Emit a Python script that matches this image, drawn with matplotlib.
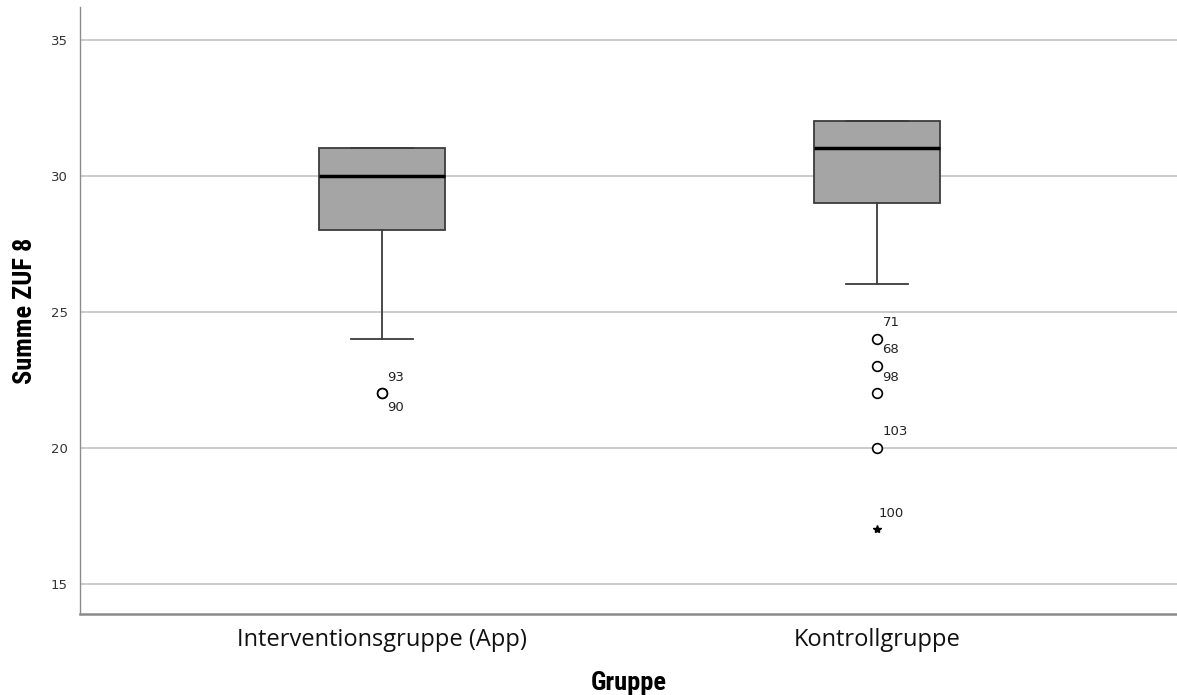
import matplotlib
matplotlib.use("Agg")
import matplotlib.pyplot as plt
from matplotlib import font_manager

gruppen = ["Interventionsgruppe (App)", "Kontrollgruppe"]
q1 = [28, 29]
median = [30, 31]
q3 = [31, 32]
whisker_lo = [24, 26]
whisker_hi = [31, 32]

# Ausreisser (Kreis) und Extremwerte (Stern) mit Fallnummern
ausreisser_gruppe = [0, 0, 1, 1, 1, 1]
ausreisser_wert = [22, 22, 24, 23, 22, 20]
ausreisser_label = ["93", "90", "71", "68", "98", "103"]
ausreisser_pos = ["oben", "unten", "oben", "oben", "oben", "oben"]
extrem_gruppe = [1]
extrem_wert = [17]
extrem_label = ["100"]

yticks = [15, 20, 25, 30, 35]

# schmale Schrift fuer die Achsentitel, falls vorhanden
namen = {f.name for f in font_manager.fontManager.ttflist}
schmal = [n for n in ["Liberation Sans Narrow", "Roboto Condensed", "Open Sans Condensed"] if n in namen]
fam_titel = schmal + ["DejaVu Sans"]
fam_ticks = ["Open Sans", "DejaVu Sans"]

fig = plt.figure(figsize=(11.77, 6.95), dpi=100)
ax = fig.add_axes([0.068, 0.117, 0.932, 0.873])

positions = [1, 2]
stats = []
for i, g in enumerate(gruppen):
    stats.append(dict(label=g, q1=q1[i], med=median[i], q3=q3[i],
                      whislo=whisker_lo[i], whishi=whisker_hi[i], fliers=[]))

ax.bxp(stats, positions=positions, widths=0.255, patch_artist=True,
       showfliers=False,
       boxprops=dict(facecolor="#a5a5a5", edgecolor="#3c3c3c", linewidth=1.3),
       medianprops=dict(color="black", linewidth=2.5),
       whiskerprops=dict(color="#3c3c3c", linewidth=1.3),
       capprops=dict(color="#3c3c3c", linewidth=1.3),
       capwidths=0.125, zorder=3)

for g, v, lab, pos in zip(ausreisser_gruppe, ausreisser_wert, ausreisser_label, ausreisser_pos):
    x = positions[g]
    ax.plot(x, v, marker="o", markersize=7, markerfacecolor="white",
            markeredgecolor="black", markeredgewidth=1.2, zorder=4)
    dy = 7 if pos == "oben" else -15
    ax.annotate(lab, (x, v), xytext=(4, dy), textcoords="offset points",
                fontsize=9.5, color="#222222", ha="left", va="bottom")

for g, v, lab in zip(extrem_gruppe, extrem_wert, extrem_label):
    x = positions[g]
    ax.plot(x, v, marker="*", markersize=6, color="black", zorder=4)
    ax.annotate(lab, (x, v), xytext=(1, 7), textcoords="offset points",
                fontsize=9.5, color="#222222", ha="left", va="bottom")

ax.set_xlim(0.39, 2.606)
ax.set_ylim(13.9, 36.2)
ax.set_yticks(yticks)
ax.set_xticks(positions)
ax.set_xticklabels(gruppen, fontsize=17, family=fam_ticks, color="#111111")
ax.tick_params(axis="y", length=0, labelsize=9.5, labelcolor="#333333", pad=9)
ax.tick_params(axis="x", length=0, pad=10)

ax.yaxis.grid(True, color="#bdbdbd", linewidth=1.1)
ax.set_axisbelow(True)

for s in ["top", "right"]:
    ax.spines[s].set_visible(False)
ax.spines["left"].set_color("#8a8a8a")
ax.spines["bottom"].set_color("#8a8a8a")
ax.spines["bottom"].set_linewidth(1.8)
ax.spines["left"].set_linewidth(1.0)

ax.set_ylabel("Summe ZUF 8", fontsize=19, fontweight="bold",
              family=fam_titel, labelpad=10)
ax.set_xlabel("Gruppe", fontsize=19, fontweight="bold",
              family=fam_titel, labelpad=14)

fig.savefig("out.png", dpi=100)
